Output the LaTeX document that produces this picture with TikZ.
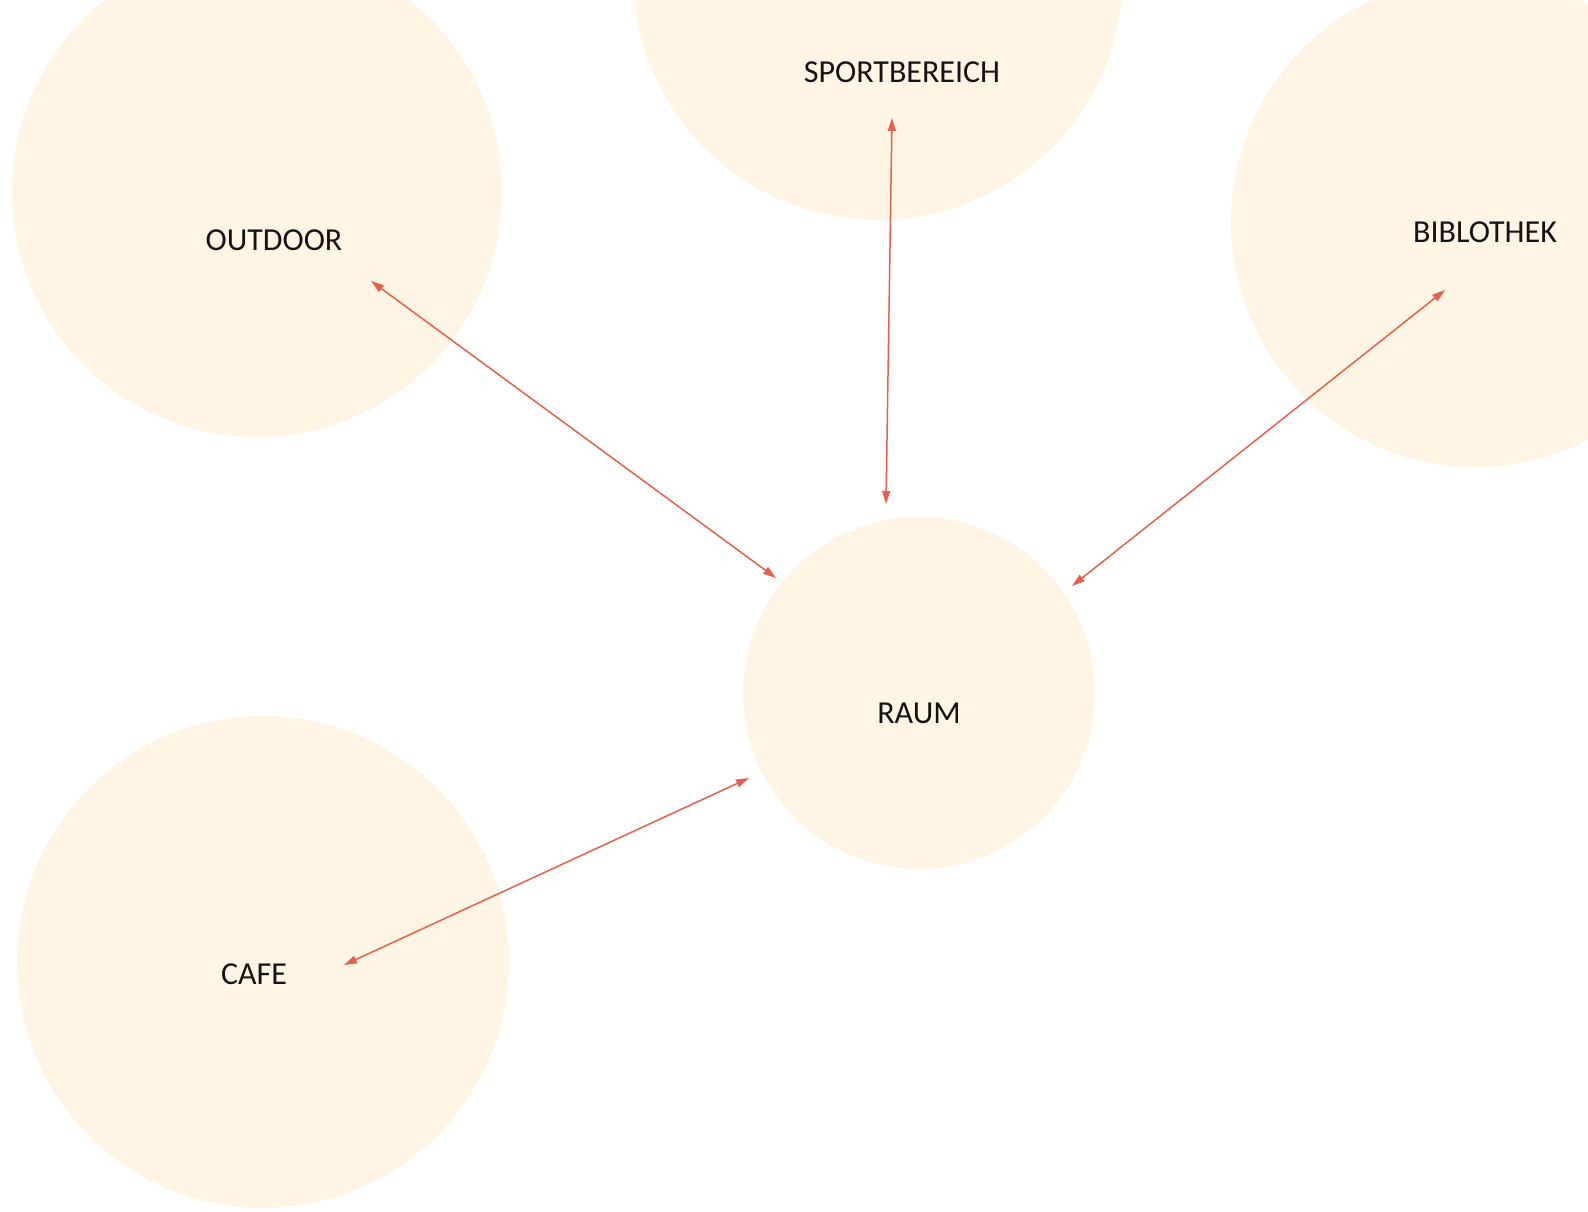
\documentclass[tikz,border=0pt]{standalone}
\usepackage{fontspec}
\setmainfont{Carlito}
\usetikzlibrary{arrows.meta}
\definecolor{bubble}{HTML}{FEF5E4}
\definecolor{link}{HTML}{E95F4E}
\begin{document}
\begin{tikzpicture}[x=1pt,y=-1pt,
  bubblenode/.style={circle,fill=bubble,draw=none,inner sep=0pt},
  lbl/.style={font=\fontsize{32}{36}\selectfont,text=black!92,inner sep=0pt},
  linkline/.style={draw=link,line width=1.5pt,{Triangle[length=13pt,width=8pt]}-{Triangle[length=13pt,width=8pt]}}]
\useasboundingbox (0,0) rectangle (1588,1211);
\fill[white] (0,0) rectangle (1588,1211);
\clip (0,0) rectangle (1588,1211);
% circles
\node[bubblenode,minimum size=490pt] (outdoorC) at (257,192) {};
\node[bubblenode,minimum size=490pt] (sportC) at (878,-25) {};
\node[bubblenode,minimum size=490pt] (biblioC) at (1476,222) {};
\node[bubblenode,minimum size=352pt] (raumC) at (919,693) {};
\node[bubblenode,minimum size=492pt] (cafeC) at (263,962) {};
% labels
\node[lbl] (outdoor) at (274,240) {OUTDOOR};
\node[lbl] (sport) at (902,72) {SPORTBEREICH};
\node[lbl] (biblio) at (1485,232) {BIBLOTHEK};
\node[lbl] (raum) at (919,713) {RAUM};
\node[lbl] (cafe) at (254,974) {CAFE};
% connector ends
\coordinate (oA) at (371,281);
\coordinate (oB) at (776,578);
\coordinate (sA) at (892,118);
\coordinate (sB) at (886,504);
\coordinate (bA) at (1445,290);
\coordinate (bB) at (1072,586);
\coordinate (cA) at (344,965);
\coordinate (cB) at (749,778);
\draw[linkline] (oA) -- (oB);
\draw[linkline] (sA) -- (sB);
\draw[linkline] (bA) -- (bB);
\draw[linkline] (cA) -- (cB);
\end{tikzpicture}
\end{document}
